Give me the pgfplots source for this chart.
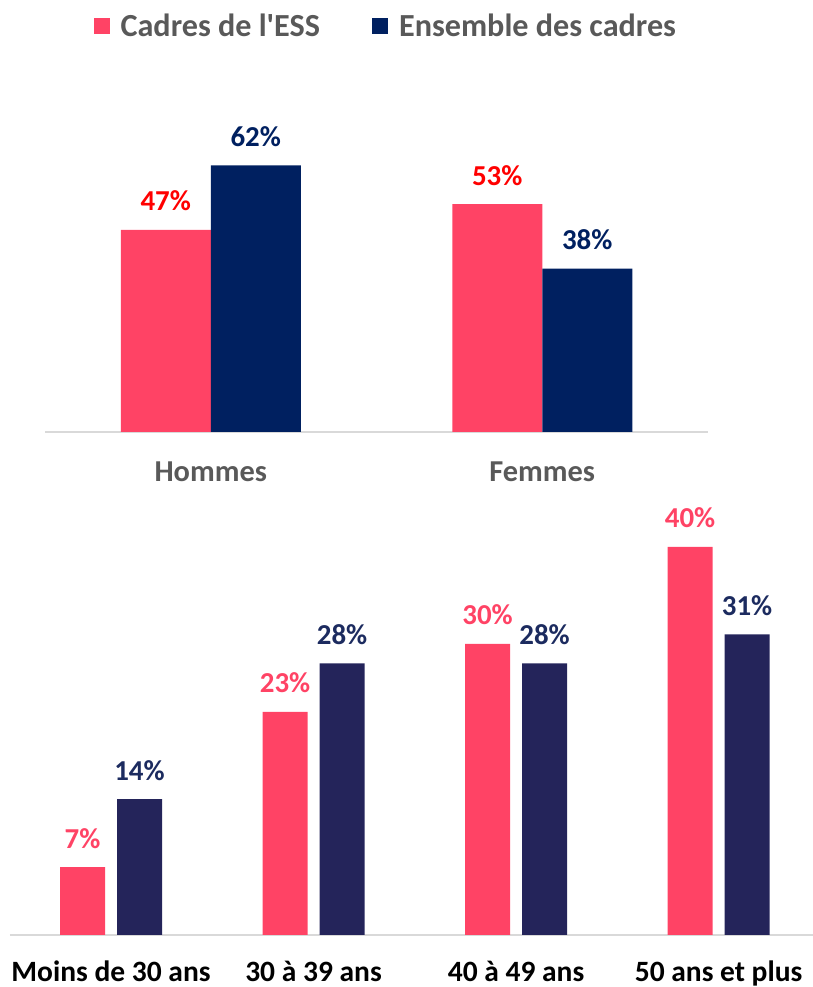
\documentclass[border=0pt]{standalone}
\usepackage{pgfplots}
\pgfplotsset{compat=1.18}
\usepackage{fontspec}
\setmainfont{Carlito}[Ligatures=TeXOff]
\definecolor{pinkc}{HTML}{FF4365}
\definecolor{navytop}{HTML}{002060}
\definecolor{navybot}{HTML}{24245A}
\definecolor{navylab}{HTML}{1C2B5F}
\definecolor{graytxt}{HTML}{595959}
\definecolor{axisgray}{HTML}{D9D9D9}
\newcommand{\lblfont}{\fontsize{29}{29}\selectfont\bfseries}
\begin{document}
\begin{tikzpicture}
\path[use as bounding box] (0bp,0bp) rectangle (813bp,987bp);
% ---------- Top chart: sexe ----------
\begin{axis}[
  at={(45bp,555bp)}, anchor=south west,
  scale only axis, width=663bp, height=301bp,
  ymin=0, ymax=70, xmin=-0.5, xmax=1.5,
  clip=false,
  /pgf/number format/assume math mode=true,
  axis x line=bottom, axis y line=none,
  axis line style={axisgray, line width=1.5bp, -},
  xtick={0,1}, xticklabels={Hommes,Femmes}, major tick length=0pt,
  xticklabel style={font=\fontsize{30.5}{30.5}\selectfont\bfseries, text=graytxt, anchor=base, yshift=-50bp, inner sep=0pt},
  ybar=0pt, bar width=90bp,
  nodes near coords={\pgfmathprintnumber{\pgfplotspointmeta}\%},
  every node near coord/.append style={font=\lblfont, anchor=base, yshift=19bp, inner sep=0pt},
  legend columns=2,
  legend style={at={(0.514,1.349)}, anchor=center, draw=none, fill=none,
    font=\fontsize{32.3}{32.3}\selectfont\bfseries, text=graytxt,
    /tikz/every even column/.append style={column sep=50bp}},
]
\addplot[fill=pinkc, draw=none, bar shift=-45bp,
  every node near coord/.append style={text=red},
  legend image code/.code={\fill[pinkc] (0bp,-8bp) rectangle (16bp,8bp); \path (25bp,0bp);}]
  coordinates {(0,47) (1,53)};
\addlegendentry{Cadres de l'ESS}
\addplot[fill=navytop, draw=none, bar shift=45bp,
  every node near coord/.append style={text=navytop},
  legend image code/.code={\fill[navytop] (0bp,-8bp) rectangle (16bp,8bp); \path (25bp,0bp);}]
  coordinates {(0,62) (1,38)};
\addlegendentry{Ensemble des cadres}
\end{axis}
% ---------- Bottom chart: age ----------
\begin{axis}[
  at={(9.75bp,52bp)}, anchor=south west,
  scale only axis, width=803bp, height=436.5bp,
  ymin=0, ymax=45, xmin=-0.5, xmax=3.465,
  clip=false,
  /pgf/number format/assume math mode=true,
  axis x line=bottom, axis y line=none,
  axis line style={axisgray, line width=1.5bp, -},
  xtick={0,1,2,3}, xticklabels={Moins de 30 ans,30 à 39 ans,40 à 49 ans,50 ans et plus}, major tick length=0pt,
  xticklabel style={font=\fontsize{29.6}{29.6}\selectfont\bfseries, text=black, anchor=base, yshift=-46bp, inner sep=0pt},
  ybar=0pt, bar width=45bp,
  nodes near coords={\pgfmathprintnumber{\pgfplotspointmeta}\%},
  every node near coord/.append style={font=\lblfont, anchor=base, yshift=19bp, inner sep=0pt},
]
\addplot[fill=pinkc, draw=none, bar shift=-28.5bp,
  every node near coord/.append style={text=pinkc}]
  coordinates {(0,7) (1,23) (2,30) (3,40)};
\addplot[fill=navybot, draw=none, bar shift=28.5bp,
  every node near coord/.append style={text=navylab}]
  coordinates {(0,14) (1,28) (2,28) (3,31)};
\end{axis}
\end{tikzpicture}
\end{document}
